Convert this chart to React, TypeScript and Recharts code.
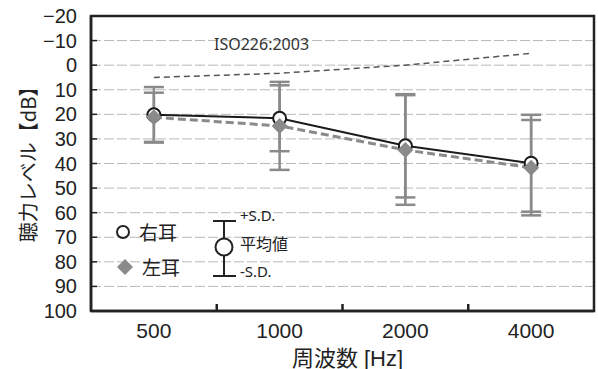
import { CartesianGrid, ErrorBar, Label, Line, LineChart, ReferenceArea, XAxis, YAxis } from "recharts"

const freqs = ["500", "1000", "2000", "4000"]
const rightMean = [20.2, 21.6, 32.8, 39.9]
const rightSD = [11.3, 13.4, 21.0, 19.7]
const leftMean = [21.2, 24.7, 34.5, 41.7]
const leftSD = [10.0, 17.9, 22.3, 19.4]
const iso226 = [5.0, 3.3, 0.0, -4.8]
const yTicks = [-20, -10, 0, 10, 20, 30, 40, 50, 60, 70, 80, 90, 100]

const data = freqs.map((f, i) => ({
  freq: f,
  right: rightMean[i],
  rightErr: rightSD[i],
  left: leftMean[i],
  leftErr: leftSD[i],
  iso: iso226[i],
}))

const W = 598
const H = 369
const M = { top: 16, right: 4, bottom: 0, left: 0 }
const Y_W = 91
const X_H = 58
const PLOT_W = W - M.left - M.right - Y_W
const GRAY = "#8a8a8a"
const LATIN = "'Liberation Sans', 'Noto Sans CJK JP', sans-serif"
const CJK = "'Noto Sans CJK JP', 'Noto Sans', sans-serif"

const YTick = (props: any) => {
  const { x, y, payload } = props
  const label = String(payload.value).replace("-", "\u2212")
  return (
    <g>
      <line x1={x + 14} x2={x + 20} y1={y} y2={y} stroke="#222" strokeWidth={1.5} />
      <text x={x} y={y} textAnchor="end" dominantBaseline="central" fontSize={20} fontFamily={LATIN} fill="#222">
        {label}
      </text>
    </g>
  )
}

const XTick = (props: any) => {
  const { x, y, payload, index } = props
  const half = PLOT_W / freqs.length / 2
  return (
    <g>
      {index < freqs.length - 1 && (
        <line x1={x + half} x2={x + half} y1={y} y2={y - 7} stroke="#222" strokeWidth={2.5} />
      )}
      <text x={x} y={y + 19} textAnchor="middle" dominantBaseline="central" fontSize={21} fontFamily={LATIN} fill="#222">
        {payload.value}
      </text>
    </g>
  )
}

const YTitle = (props: any) => {
  const { viewBox } = props
  const cx = viewBox.x + 27
  const cy = viewBox.y + viewBox.height / 2 - 4
  return (
    <text x={cx} y={cy} transform={`rotate(-90 ${cx} ${cy})`} textAnchor="middle" dominantBaseline="central" fontSize={20} fontFamily={CJK} fill="#222">
      聴力レベル【dB】
    </text>
  )
}

const XTitle = (props: any) => {
  const { viewBox } = props
  const cx = viewBox.x + viewBox.width / 2 + 5
  const cy = viewBox.y + 47
  return (
    <text x={cx} y={cy} textAnchor="middle" dominantBaseline="central" fontSize={22} fontFamily={LATIN} fill="#222">
      周波数 [Hz]
    </text>
  )
}

const Diamond = (props: any) => {
  const { cx, cy, index } = props
  if (cx == null || cy == null) return null
  const s = 8
  return <path key={index} d={`M${cx},${cy - s}L${cx + s},${cy}L${cx},${cy + s}L${cx - s},${cy}Z`} fill={GRAY} />
}

function Overlay() {
  return (
    <svg width={W} height={H} style={{ position: "absolute", left: 0, top: 0, pointerEvents: "none" }}>
      <text x={214} y={44} dominantBaseline="central" fontSize={16} fontFamily="'Noto Sans', sans-serif" fill="#333">
        ISO226:2003
      </text>
      <circle cx={123} cy={232} r={6} fill="#fff" stroke="#222" strokeWidth={2} />
      <text x={139} y={231} dominantBaseline="central" fontSize={19} fontFamily={CJK} fill="#222">右耳</text>
      <path d="M125,259L133,267L125,275L117,267Z" fill={GRAY} />
      <text x={142} y={266} dominantBaseline="central" fontSize={19} fontFamily={CJK} fill="#222">左耳</text>
      <line x1={224} x2={224} y1={221} y2={276} stroke="#222" strokeWidth={2} />
      <line x1={213} x2={236} y1={221} y2={221} stroke="#222" strokeWidth={2} />
      <line x1={213} x2={236} y1={276} y2={276} stroke="#222" strokeWidth={2} />
      <circle cx={224} cy={247} r={8.5} fill="#fff" stroke="#222" strokeWidth={2} />
      <text x={240} y={215} dominantBaseline="central" fontSize={15} fontFamily="'Noto Sans', sans-serif" fill="#222">+S.D.</text>
      <text x={240} y={243} dominantBaseline="central" fontSize={16} fontFamily={CJK} fill="#222">平均値</text>
      <text x={240} y={271} dominantBaseline="central" fontSize={15} fontFamily="'Noto Sans', sans-serif" fill="#222">-S.D.</text>
    </svg>
  )
}

export default function App() {
  return (
    <div style={{ position: "absolute", left: 0, top: 0, width: W, height: H, background: "#fff" }}>
      <LineChart width={W} height={H} data={data} margin={M}>
        <CartesianGrid vertical={false} stroke="#b8b8b8" strokeDasharray="10 3" />
        <XAxis dataKey="freq" type="category" scale="band" height={X_H} tickLine={false} tickSize={0} tickMargin={0} axisLine={{ stroke: "#222", strokeWidth: 2.5 }} tick={<XTick />} interval={0}>
          <Label content={<XTitle />} />
        </XAxis>
        <YAxis type="number" reversed domain={[-20, 100]} ticks={yTicks} interval={0} width={Y_W} tickLine={false} tickSize={0} tickMargin={14} axisLine={{ stroke: "#222", strokeWidth: 2.5 }} tick={<YTick />}>
          <Label content={<YTitle />} />
        </YAxis>
        <ReferenceArea y1={-20} y2={100} fill="none" stroke="#222" strokeWidth={2.5} />
        <Line dataKey="iso" stroke="#555" strokeWidth={1.5} strokeDasharray="6 4" dot={false} isAnimationActive={false} />
        <Line dataKey="right" stroke="#1a1a1a" strokeWidth={2} dot={{ r: 6.5, fill: "#fff", stroke: "#1a1a1a", strokeWidth: 2 }} isAnimationActive={false}>
          <ErrorBar dataKey="rightErr" width={10} strokeWidth={2.5} stroke={GRAY} direction="y" />
        </Line>
        <Line dataKey="left" stroke={GRAY} strokeWidth={3} strokeDasharray="8 4" dot={<Diamond />} isAnimationActive={false}>
          <ErrorBar dataKey="leftErr" width={10} strokeWidth={2.5} stroke={GRAY} direction="y" />
        </Line>
      </LineChart>
      <Overlay />
    </div>
  )
}
